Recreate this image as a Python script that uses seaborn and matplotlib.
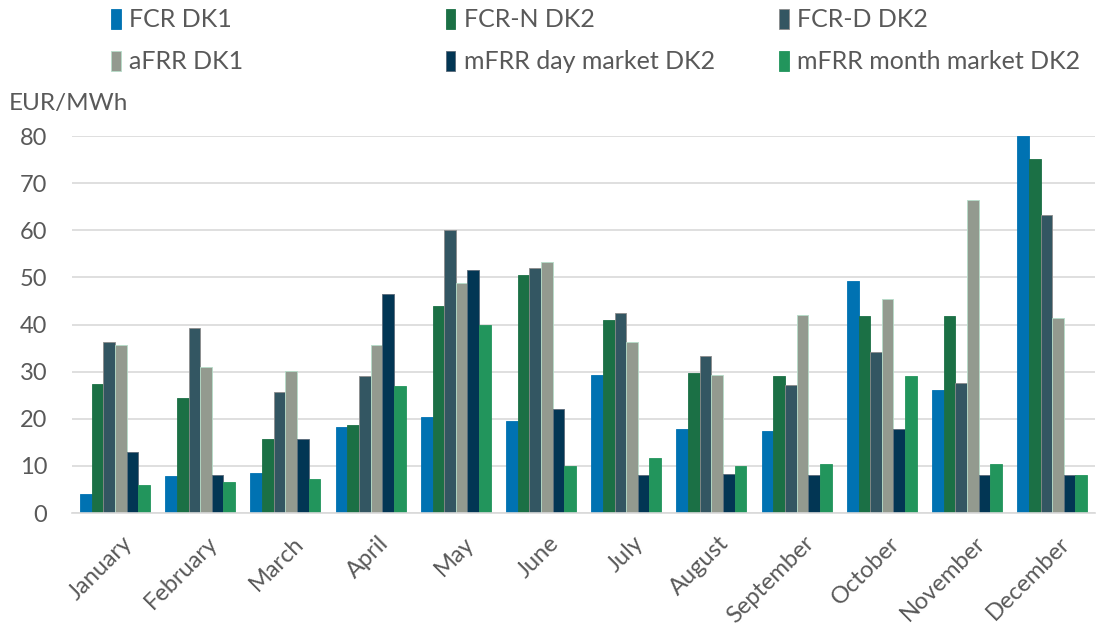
import matplotlib
matplotlib.use("Agg")
import matplotlib.pyplot as plt
import matplotlib.transforms as mtransforms
import pandas as pd
import seaborn as sns

MONTHS = ["January", "February", "March", "April", "May", "June", "July",
          "August", "September", "October", "November", "December"]
SERIES = ["FCR DK1", "FCR-N DK2", "FCR-D DK2", "aFRR DK1",
          "mFRR day market DK2", "mFRR month market DK2"]
COLORS = ["#0072B2", "#1B7045", "#335662", "#939A8F", "#023654", "#22955C"]
EDGES = ["#0072B2", "#1B7045", "#8C8C8C", "#B5DDC9", "#5A6A78", "#22955C"]

fcr_dk1 = [4.0, 7.8, 8.5, 18.3, 20.3, 19.5, 29.3, 17.8, 17.5, 49.3, 26.1, 80.0]
fcr_n_dk2 = [27.3, 24.5, 15.8, 18.8, 43.9, 50.5, 41.0, 29.7, 29.0, 41.8, 41.8, 75.1]
fcr_d_dk2 = [36.3, 39.2, 25.6, 29.0, 60.0, 52.0, 42.4, 33.4, 27.2, 34.2, 27.6, 63.3]
afrr_dk1 = [35.6, 31.0, 30.2, 35.6, 48.8, 53.3, 36.3, 29.3, 42.1, 45.5, 66.4, 41.3]
mfrr_day_dk2 = [13.0, 8.0, 15.8, 46.4, 51.6, 22.0, 8.0, 8.4, 8.0, 17.9, 8.0, 8.0]
mfrr_month_dk2 = [6.0, 6.5, 7.3, 26.9, 40.0, 10.0, 11.7, 10.0, 10.5, 29.0, 10.5, 8.0]

values = [fcr_dk1, fcr_n_dk2, fcr_d_dk2, afrr_dk1, mfrr_day_dk2, mfrr_month_dk2]
df = pd.DataFrame([
    {"month": m, "series": s, "value": v}
    for s, vals in zip(SERIES, values) for m, v in zip(MONTHS, vals)
])

sns.set_theme(style="white")
plt.rcParams["font.family"] = ["Lato", "DejaVu Sans"]
TXT = "#595959"

fig = plt.figure(figsize=(10.97, 6.39), dpi=100)
ax = fig.add_axes([0.066, 0.197, 0.932, 0.59])
sns.barplot(data=df, x="month", y="value", hue="series", order=MONTHS, hue_order=SERIES,
            palette=COLORS, width=0.82, saturation=1, legend=False, ax=ax)

# outlines per series
for cont, ec in zip(ax.containers, EDGES):
    for bar in cont:
        bar.set_edgecolor(ec)
        bar.set_linewidth(0.6)

ax.set_ylim(0, 80)
ax.set_yticks(range(0, 81, 10))
ax.set_xlim(-0.5, len(MONTHS) - 0.5)
ax.yaxis.grid(True, color="#D9D9D9", linewidth=1.2)
ax.set_axisbelow(True)
for side in ["top", "right", "left"]:
    ax.spines[side].set_visible(False)
ax.spines["bottom"].set_color("#D9D9D9")
ax.spines["bottom"].set_linewidth(1.2)
ax.set_xlabel("")
ax.set_ylabel("")
ax.tick_params(axis="y", labelsize=17, labelcolor=TXT, length=0, pad=18)
ax.tick_params(axis="x", labelsize=17, labelcolor=TXT, length=0, pad=14)
ax.set_xticks(range(len(MONTHS)))
ax.set_xticklabels(MONTHS, rotation=45, ha="right", rotation_mode="anchor")
shift = mtransforms.ScaledTranslation(7 / 100, 0, fig.dpi_scale_trans)
for lab in ax.get_xticklabels():
    lab.set_transform(lab.get_transform() + shift)
# category separators below the axis
ax.set_xticks([i - 0.5 for i in range(len(MONTHS) + 1)], minor=True)
ax.tick_params(axis="x", which="minor", length=7, color="#D9D9D9", width=1.2)

fig.text(0.008, 0.838, "EUR/MWh", fontsize=17.5, color=TXT, va="center")

# legend: three columns placed individually
handles = [plt.Rectangle((0, 0), 1, 1, facecolor=c, edgecolor=e, linewidth=0.6)
           for c, e in zip(COLORS, EDGES)]
col_x = [0.081, 0.386, 0.690]
for k, x in enumerate(col_x):
    idx = [k, k + 3]
    fig.legend([handles[i] for i in idx], [SERIES[i] for i in idx],
               loc="upper left", bbox_to_anchor=(x, 1.022), frameon=False,
               fontsize=18, labelcolor=TXT, handlelength=0.38, handleheight=0.85,
               handletextpad=0.33, labelspacing=0.75)

fig.savefig("out.png", dpi=100)
